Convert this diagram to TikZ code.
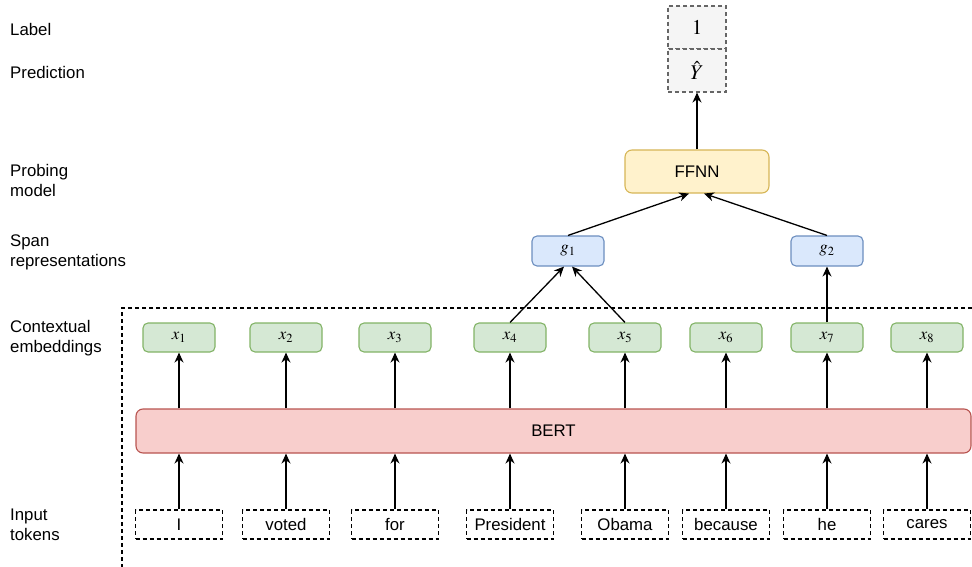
\documentclass[tikz,border=0pt]{standalone}
\usepackage{mathptmx}
\usepackage{fontspec}
\setmainfont{Liberation Sans}
\usepackage{tikz}
\usetikzlibrary{arrows.meta}
\usetikzlibrary{shapes.misc}

\definecolor{embfill}{HTML}{D5E8D4}
\definecolor{embline}{HTML}{82B366}
\definecolor{spanfill}{HTML}{DAE8FC}
\definecolor{spanline}{HTML}{6C8EBF}
\definecolor{probefill}{HTML}{FFF2CC}
\definecolor{probeline}{HTML}{D6B656}
\definecolor{bertfill}{HTML}{F8CECC}
\definecolor{bertline}{HTML}{B85450}
\definecolor{outfill}{HTML}{F5F5F5}
\definecolor{outline}{HTML}{666666}

\tikzstyle{arrow} = [line width=1.3pt,-{Stealth[length=10pt,width=9pt]}]
\tikzstyle{token} = [draw,line width=1.1pt,dash pattern=on 4pt off 3pt,minimum width=87pt,minimum height=29pt,inner sep=0pt]
\tikzstyle{emb} = [draw=embline,fill=embfill,line width=1.1pt,rounded corners=5pt,minimum width=72pt,minimum height=29pt,inner sep=0pt]
\tikzstyle{span} = [draw=spanline,fill=spanfill,line width=1.1pt,rounded corners=5pt,minimum width=72pt,minimum height=30pt,inner sep=0pt]
\tikzstyle{outbox} = [draw=outline,fill=outfill,line width=1.1pt,dash pattern=on 4pt off 3pt,minimum width=58pt,minimum height=43pt,inner sep=0pt,font=\fontsize{21}{24}\selectfont]
\tikzstyle{rowlabel} = [anchor=west,align=left,inner sep=0pt]

\begin{document}
\begin{tikzpicture}[x=1pt,y=-1pt,font=\fontsize{16.8}{20}\selectfont]
\useasboundingbox (0,0) rectangle (972,567);

% row labels on the left
\node[rowlabel] (tLabel) at (10,29) {Label};
\node[rowlabel] (tPred) at (10,72) {Prediction};
\node[rowlabel] (tProbe) at (10,180.5) {Probing\\model};
\node[rowlabel] (tSpan) at (10,252) {Span\\representations};
\node[rowlabel] (tCtx) at (10,338) {Contextual\\embeddings};
\node[rowlabel] (tInput) at (10,525) {Input\\tokens};

% region covered by the encoder
\draw[line width=1.1pt,dash pattern=on 4pt off 3pt] (972,308) -- (122,308) -- (122,567);

% output
\node[outbox] (lab) at (697,27.5) {$1$};
\node[outbox] (pred) at (697,70.5) {$\hat{Y}$};
\node[draw=probeline,fill=probefill,line width=1.1pt,rounded corners=7pt,minimum width=144pt,minimum height=43pt] (ffnn) at (697,171.5) {FFNN};

% spans
\node[span] (g1) at (568,251) {$g_1$};
\node[span] (g2) at (827,251) {$g_2$};

% encoder
\node[draw=bertline,fill=bertfill,line width=1.1pt,rounded corners=7pt,minimum width=835pt,minimum height=44pt] (bert) at (553.5,431) {BERT};

% embeddings
\node[emb] (x1) at (179,337.5) {$x_1$};
\node[emb] (x2) at (286,337.5) {$x_2$};
\node[emb] (x3) at (395,337.5) {$x_3$};
\node[emb] (x4) at (510,337.5) {$x_4$};
\node[emb] (x5) at (625,337.5) {$x_5$};
\node[emb] (x6) at (726,337.5) {$x_6$};
\node[emb] (x7) at (827,337.5) {$x_7$};
\node[emb] (x8) at (927,337.5) {$x_8$};

% tokens
\node[token] (w1) at (179,524.5) {I};
\node[token] (w2) at (286,524.5) {voted};
\node[token] (w3) at (395,524.5) {for};
\node[token] (w4) at (510,524.5) {President};
\node[token] (w5) at (625,524.5) {Obama};
\node[token] (w6) at (726,524.5) {because};
\node[token] (w7) at (827,524.5) {he};
\node[token] (w8) at (927,524.5) {cares};

\draw[arrow] (w1.north) -- (w1.north |- bert.south);
\draw[arrow] (w2.north) -- (w2.north |- bert.south);
\draw[arrow] (w3.north) -- (w3.north |- bert.south);
\draw[arrow] (w4.north) -- (w4.north |- bert.south);
\draw[arrow] (w5.north) -- (w5.north |- bert.south);
\draw[arrow] (w6.north) -- (w6.north |- bert.south);
\draw[arrow] (w7.north) -- (w7.north |- bert.south);
\draw[arrow] (w8.north) -- (w8.north |- bert.south);
\draw[arrow] (x1.south |- bert.north) -- (x1.south);
\draw[arrow] (x2.south |- bert.north) -- (x2.south);
\draw[arrow] (x3.south |- bert.north) -- (x3.south);
\draw[arrow] (x4.south |- bert.north) -- (x4.south);
\draw[arrow] (x5.south |- bert.north) -- (x5.south);
\draw[arrow] (x6.south |- bert.north) -- (x6.south);
\draw[arrow] (x7.south |- bert.north) -- (x7.south);
\draw[arrow] (x8.south |- bert.north) -- (x8.south);
\draw[arrow] (x4.north) -- ([xshift=-4pt]g1.south);
\draw[arrow] (x5.north) -- ([xshift=4pt]g1.south);
\draw[arrow] (x7.north) -- (g2.south);
\draw[arrow] (g1.north) -- ([xshift=-8pt]ffnn.south);
\draw[arrow] (g2.north) -- ([xshift=7pt]ffnn.south);
\draw[arrow] (ffnn.north) -- (pred.south);
\end{tikzpicture}
\end{document}
